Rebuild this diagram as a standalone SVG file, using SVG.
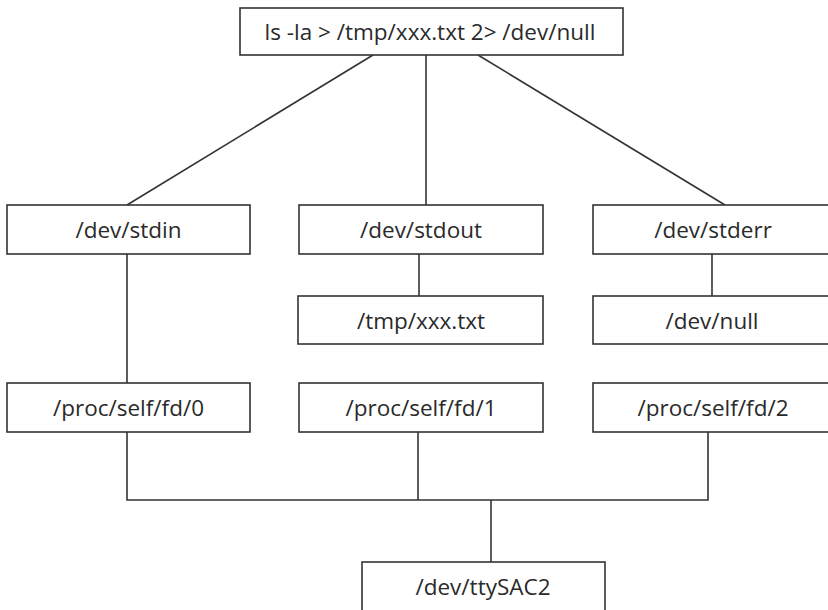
<svg xmlns="http://www.w3.org/2000/svg" width="828" height="610" viewBox="0 0 828 610">
<style>
.box{fill:#fff;stroke:#333;stroke-width:1.6}
.lbl{font-family:"Open Sans","Liberation Sans",sans-serif;font-size:22.5px;fill:#2a2a2a;text-anchor:middle}
.conn{stroke:#333;stroke-width:1.6;fill:none}
</style>
<rect width="828" height="610" fill="#fff"/>
<g id="connectors">
<line class="conn" x1="373" y1="55" x2="127" y2="205"/>
<line class="conn" x1="426" y1="55" x2="426" y2="205"/>
<line class="conn" x1="478" y1="55" x2="725" y2="205"/>
<line class="conn" x1="127" y1="254" x2="127" y2="383"/>
<line class="conn" x1="419" y1="254" x2="419" y2="296"/>
<line class="conn" x1="712" y1="254" x2="712" y2="296"/>
<polyline class="conn" points="127,432 127,500 708,500 708,432"/>
<line class="conn" x1="418" y1="432" x2="418" y2="500"/>
<line class="conn" x1="491" y1="500" x2="491" y2="562"/>
</g>
<g id="cmd"><rect class="box" x="240" y="8" width="383" height="47"/><text class="lbl" x="430" y="40">ls -la &gt; /tmp/xxx.txt 2&gt; /dev/null</text></g>
<g id="stdin"><rect class="box" x="7" y="205" width="243" height="49"/><text class="lbl" x="128.5" y="238">/dev/stdin</text></g>
<g id="stdout"><rect class="box" x="299" y="205" width="244" height="49"/><text class="lbl" x="421" y="238">/dev/stdout</text></g>
<g id="stderr"><rect class="box" x="593" y="205" width="240" height="49"/><text class="lbl" x="713" y="238">/dev/stderr</text></g>
<g id="tmpfile"><rect class="box" x="298" y="296" width="245" height="48"/><text class="lbl" x="421" y="329">/tmp/xxx.txt</text></g>
<g id="null"><rect class="box" x="593" y="296" width="240" height="48"/><text class="lbl" x="712" y="329">/dev/null</text></g>
<g id="fd0"><rect class="box" x="7" y="383" width="243" height="49"/><text class="lbl" x="128.5" y="416">/proc/self/fd/0</text></g>
<g id="fd1"><rect class="box" x="299" y="383" width="244" height="49"/><text class="lbl" x="421" y="416">/proc/self/fd/1</text></g>
<g id="fd2"><rect class="box" x="593" y="383" width="240" height="49"/><text class="lbl" x="713" y="416">/proc/self/fd/2</text></g>
<g id="tty"><rect class="box" x="362" y="562" width="243" height="52"/><text class="lbl" x="483" y="595">/dev/ttySAC2</text></g>
</svg>
